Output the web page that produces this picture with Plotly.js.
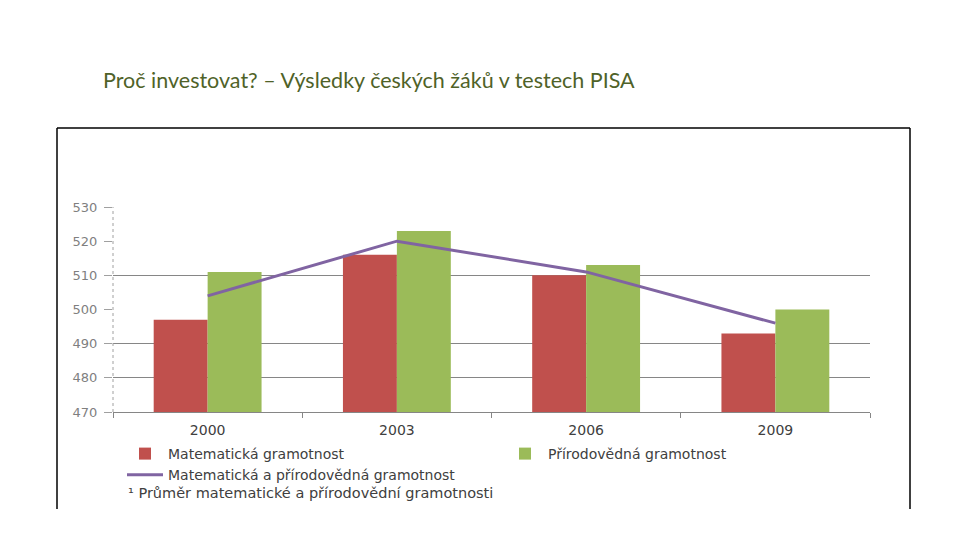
<!DOCTYPE html>
<html>
<head>
<meta charset="utf-8">
<script src="https://cdn.plot.ly/plotly-3.0.1.min.js"></script>
<style>html,body{margin:0;padding:0;background:#fff;}#chart{width:960px;height:540px;}</style>
</head>
<body>
<div id="chart"></div>
<script>
const years = ['2000', '2003', '2006', '2009'];
const mathScores = [497, 516, 510, 493];
const scienceScores = [511, 523, 513, 500];
const averageScores = [504, 520, 511, 496];
const yTickValues = [470, 480, 490, 500, 510, 520, 530];
const gridValues = [480, 490, 510, 530];
const seriesNames = ['Matematická gramotnost', 'Přírodovědná gramotnost', 'Matematická a přírodovědná gramotnost'];
const titleText = 'Proč investovat? – Výsledky českých žáků v testech PISA';
const footnoteText = '¹ Průměr matematické a přírodovědní gramotnosti';

const chartFont = 'DejaVu Sans, Verdana, sans-serif';

const traces = [
  {type: 'bar', x: years, y: mathScores, name: seriesNames[0], marker: {color: '#c0504d'}, hoverinfo: 'y'},
  {type: 'bar', x: years, y: scienceScores, name: seriesNames[1], marker: {color: '#9bbb59'}, hoverinfo: 'y'},
  {type: 'scatter', mode: 'lines', x: years, y: averageScores, name: seriesNames[2], line: {color: '#8064a2', width: 3}},
  // carrier for the grid-only overlay axis (invisible)
  {type: 'scatter', mode: 'lines', x: years, y: averageScores, yaxis: 'y2', showlegend: false, hoverinfo: 'skip', opacity: 0, line: {width: 0}}
];

const L = 113, R = 90, T = 207, B = 128;
const pw = 960 - L - R, ph = 540 - T - B;
const px = v => (v - L) / pw;
const py = v => (540 - B - v) / ph;

const layout = {
  width: 960, height: 540,
  margin: {l: L, r: R, t: T, b: B, pad: 0},
  paper_bgcolor: '#ffffff', plot_bgcolor: 'rgba(0,0,0,0)',
  showlegend: true,
  title: {
    text: titleText,
    font: {family: 'Lato, sans-serif', size: 21.5, color: '#4f6228'},
    xref: 'container', yref: 'container',
    x: 103 / 960, xanchor: 'left', y: 1 - 80 / 540, yanchor: 'middle'
  },
  barmode: 'group', bargap: 0.43, bargroupgap: 0,
  xaxis: {
    type: 'category', showgrid: false, showline: true, linecolor: '#868686', linewidth: 1,
    ticks: 'outside', tickson: 'boundaries', ticklen: 5, tickcolor: '#868686',
    ticklabelstandoff: 5,
    tickfont: {family: chartFont, size: 14, color: '#404040'}, zeroline: false
  },
  yaxis: {
    range: [470, 530], tickvals: yTickValues, showgrid: false, zeroline: false, showline: false,
    ticks: 'outside', ticklen: 8, tickcolor: '#a0a0a0', ticklabelstandoff: 4,
    tickfont: {family: chartFont, size: 13, color: '#7f7f7f'}
  },
  yaxis2: {
    overlaying: 'y', side: 'left', range: [470, 530], tickvals: gridValues, showgrid: true, gridcolor: '#868686',
    gridwidth: 1, showticklabels: false, zeroline: false, showline: false, ticks: ''
  },
  legend: {
    orientation: 'h', x: px(122), xanchor: 'left', y: py(438), yanchor: 'top',
    entrywidth: 329, font: {family: chartFont, size: 14, color: '#404040'},
    bgcolor: 'rgba(0,0,0,0)', traceorder: 'normal', itemwidth: 36, tracegroupgap: 0
  },
  annotations: [{
    text: footnoteText, xref: 'paper', yref: 'paper', x: px(126), y: py(493),
    xanchor: 'left', yanchor: 'middle', showarrow: false,
    font: {family: chartFont, size: 14.5, color: '#404040'}
  }],
  shapes: [
    {type: 'line', xref: 'paper', yref: 'paper', x0: 0, x1: 0, y0: 0, y1: 1, line: {color: '#a0a0a0', width: 1, dash: 'dot'}},
    {type: 'line', xref: 'paper', yref: 'paper', x0: px(57), x1: px(57), y0: py(128), y1: py(509), line: {color: '#000000', width: 1.5}},
    {type: 'line', xref: 'paper', yref: 'paper', x0: px(57), x1: px(910), y0: py(128), y1: py(128), line: {color: '#000000', width: 1.5}},
    {type: 'line', xref: 'paper', yref: 'paper', x0: px(910), x1: px(910), y0: py(128), y1: py(509), line: {color: '#000000', width: 1.5}}
  ]
};

Plotly.newPlot('chart', traces, layout, {displayModeBar: false, staticPlot: true});
</script>
</body>
</html>
